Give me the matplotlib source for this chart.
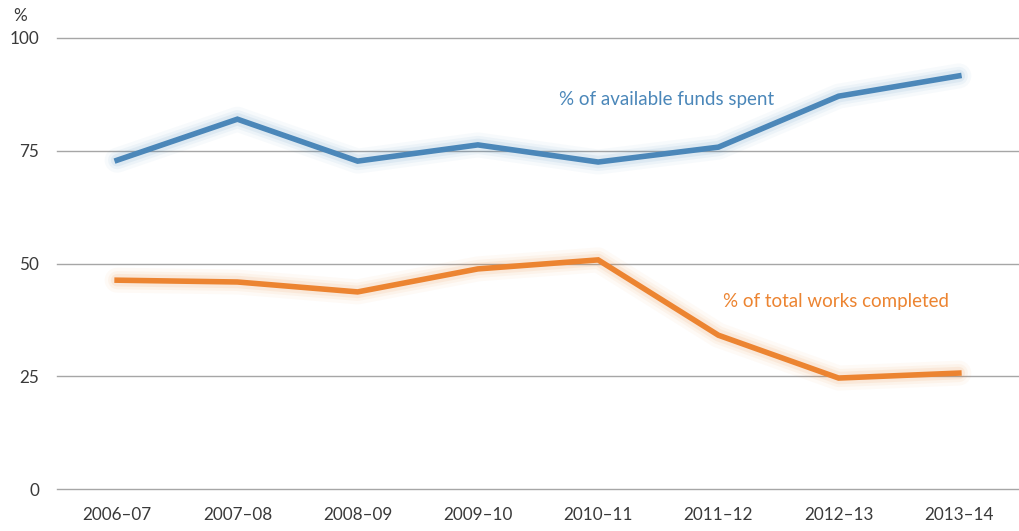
import matplotlib
matplotlib.use('Agg')
import matplotlib.pyplot as plt
import numpy as np

BLUE = '#4b87b9'
ORANGE = '#ec8431'
GRID = '#a6a6a6'
TEXT = '#3a3a3a'

plt.rcParams['font.family'] = ['Lato', 'DejaVu Sans']

years = ['2006–07', '2007–08', '2008–09', '2009–10', '2010–11', '2011–12', '2012–13', '2013–14']
funds_spent = [72.9, 82.0, 72.7, 76.3, 72.5, 75.8, 87.1, 91.6]
works_completed = [46.3, 45.9, 43.7, 48.8, 50.8, 34.1, 24.6, 25.7]

fig = plt.figure(figsize=(10.19, 5.31), dpi=100)
ax = fig.add_axes([57 / 1019, 1 - 489 / 531, 1 - 57 / 1019, (489 - 38) / 531])

x = np.arange(len(years))

# soft glow under each line
for series, col in [(funds_spent, BLUE), (works_completed, ORANGE)]:
    for lw, a in [(18, 0.04), (13, 0.06), (9, 0.09)]:
        ax.plot(x, series, color=col, linewidth=lw, alpha=a, solid_joinstyle='round',
                solid_capstyle='round', zorder=2)
    ax.plot(x, series, color=col, linewidth=4, solid_joinstyle='miter', zorder=3)

ax.set_xlim(-0.5, 7.5)
ax.set_ylim(0, 100)
ax.set_yticks([0, 25, 50, 75, 100])
ax.set_xticks(x)
ax.set_xticklabels(years)
ax.grid(True, axis='y', color=GRID, linewidth=1)
ax.set_axisbelow(True)
for gl in ax.get_ygridlines():
    gl.set_clip_on(False)
for s in ax.spines.values():
    s.set_visible(False)
ax.tick_params(axis='both', length=0, labelsize=12.3, colors=TEXT)
ax.tick_params(axis='y', pad=13)
ax.tick_params(axis='x', pad=13)

fig.text(20 / 1019, 1 - 16 / 531, '%', fontsize=12.3, color=TEXT, ha='center', va='center')

ax.text(4.57, 86.3, '% of available funds spent', color=BLUE, fontsize=13.5, ha='center', va='center')
ax.text(5.04, 41.5, '% of total works completed', color=ORANGE, fontsize=13.5, ha='left', va='center')

fig.savefig('out.png', dpi=100, facecolor='white')
